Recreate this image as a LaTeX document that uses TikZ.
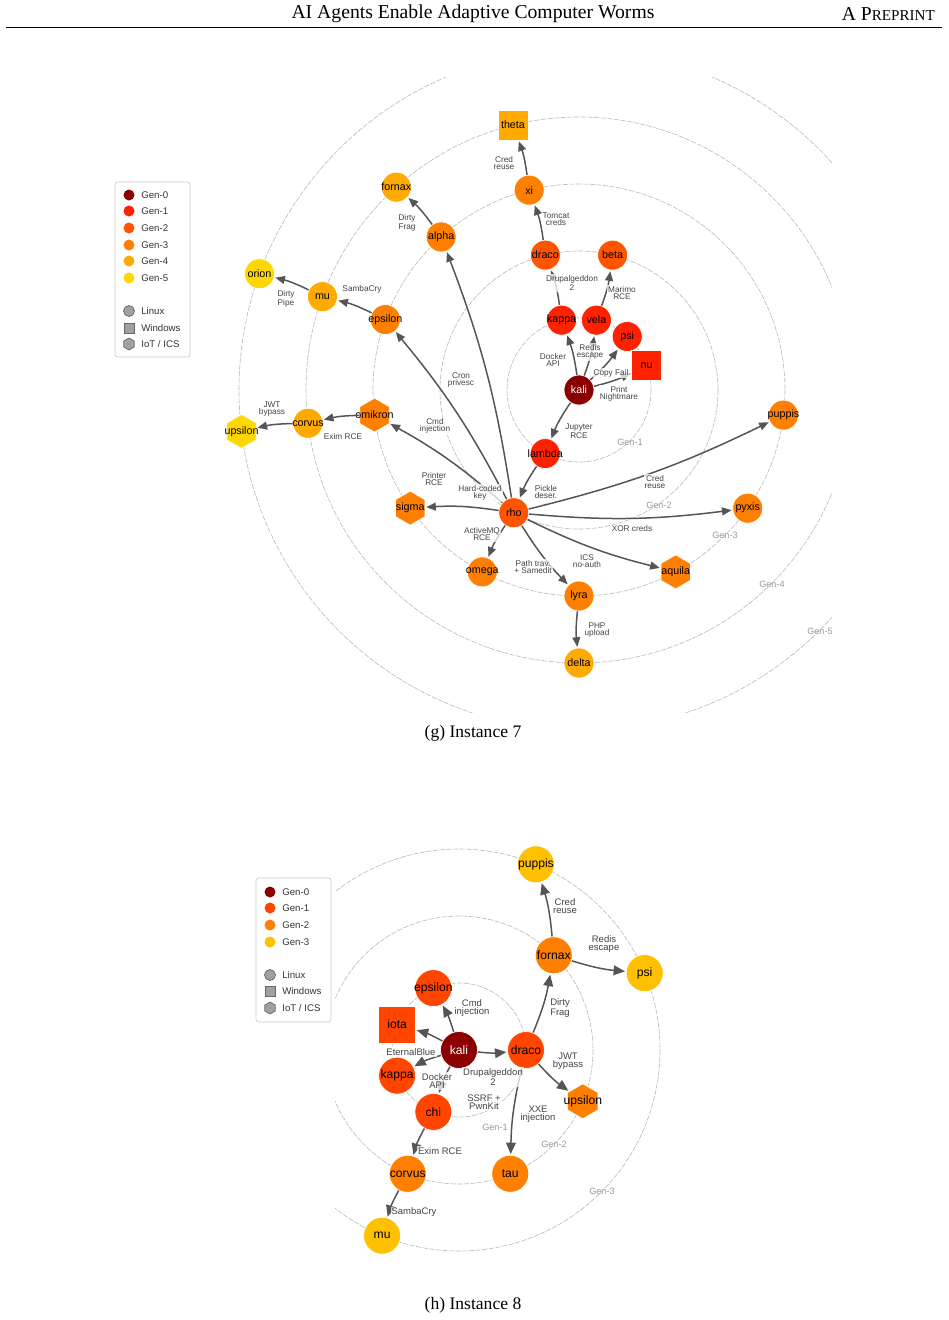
\documentclass[tikz,border=0pt]{standalone}
\usepackage{fontspec}
\setmainfont{Liberation Serif}
\newfontfamily\figfont{Liberation Sans}
\usepackage{tikz}
\usetikzlibrary{shapes.geometric, arrows.meta, calc}
\definecolor{gen0}{HTML}{8B0000}
\definecolor{gen1}{HTML}{FF2200}
\definecolor{gen2}{HTML}{FF5500}
\definecolor{gen3}{HTML}{FF8000}
\definecolor{gen4}{HTML}{FFAA00}
\definecolor{gen5}{HTML}{FFD700}
\colorlet{hgen0}{gen0}
\definecolor{hgen1}{HTML}{FF4500}
\definecolor{hgen2}{HTML}{FF8000}
\definecolor{hgen3}{HTML}{FFC000}
\definecolor{linkgray}{HTML}{555555}
\definecolor{ringgray}{HTML}{BBBBBB}
\definecolor{labelgray}{HTML}{444444}
\definecolor{markgray}{HTML}{A0A0A0}
\definecolor{legborder}{HTML}{CCCCCC}

\begin{document}
\begin{tikzpicture}[
    x=0.02cm, y=-0.02cm,
    % Define styles
    host/.style = {circle, minimum size=.6cm, inner sep=0pt, draw=white, line width=.4pt,
        font=\figfont\fontsize{6.1}{7}\selectfont,
        execute at begin node={\hbox to 0pt\bgroup\hss}, execute at end node={\hss\egroup}},
    win/.style = {host, rectangle},
    iot/.style = {host, regular polygon, regular polygon sides=6, shape border rotate=30, minimum size=.68cm},
    big/.style = {minimum size=.74cm, font=\figfont\fontsize{6.9}{8}\selectfont},
    link/.style = {draw=linkgray, line width=.85pt, -{Triangle[length=5.5pt,width=4.5pt]}, bend right=6, shorten >=.5pt},
    biglink/.style = {link, -{Triangle[length=6.5pt,width=5.5pt]}},
    elabel/.style = {font=\figfont\fontsize{4.7}{4.2}\selectfont, text=labelgray, align=center, fill=white, fill opacity=.75, text opacity=1, inner sep=.6pt},
    biglabel/.style = {elabel, font=\figfont\fontsize{5.4}{4.8}\selectfont},
    ring/.style = {draw=ringgray, line width=.35pt, dash pattern=on 3pt off .8pt},
    genlabel/.style = {font=\figfont\fontsize{5.2}{6}\selectfont, text=black!40},
    legbox/.style = {draw=legborder, rounded corners=1.5pt, line width=.4pt, fill=white, inner sep=0pt, minimum width=1.5cm},
    legdot/.style = {circle, inner sep=0pt, minimum size=.22cm},
    legmark/.style = {fill=markgray, draw=black!60, line width=.4pt},
    legsquare/.style = {rectangle, inner sep=0pt, minimum size=.2cm, legmark},
    leghex/.style = {regular polygon, regular polygon sides=6, shape border rotate=30, inner sep=0pt, minimum size=.24cm, legmark},
    legtext/.style = {anchor=west, inner sep=0pt, font=\figfont\fontsize{5.5}{6}\selectfont, text=black!80}
]
\useasboundingbox (0,0) rectangle (948,1320);
\fill[white] (0,0) rectangle (948,1320);

% Running head
\node[font=\fontsize{11.2}{13}\selectfont] (title) at (473,14) {AI Agents Enable Adaptive Computer Worms};
\node[anchor=east, font=\fontsize{11.2}{13}\selectfont] (runhead) at (941,14) {A P{\fontsize{8.6}{10}\selectfont REPRINT}};
\draw[line width=.5pt] (6,27) -- (942,27);

%% ---------------- Instance 7 ----------------
\coordinate (c7) at (579,390);

% Rings
\begin{scope}
  \clip (100,77) rectangle (832,712);
  \foreach \r in {72,139,206,273,340}
    \draw[ring] (c7) circle[radius=\r];
\end{scope}
\node[genlabel] (ring7-1) at (630,442) {Gen-1};
\node[genlabel] (ring7-2) at (659,505) {Gen-2};
\node[genlabel] (ring7-3) at (725,535) {Gen-3};
\node[genlabel] (ring7-4) at (772,584) {Gen-4};
\node[genlabel] (ring7-5) at (820,631) {Gen-5};

% Hosts
\node[host, fill=gen0, text=white] (kali7) at (c7) {kali};
\node[host, fill=gen1] (lambda7) at ($(c7)+(118:72)$) {lambda};
\node[host, fill=gen1] (kappa7) at ($(c7)+(-104:72)$) {kappa};
\node[host, fill=gen1] (vela7) at ($(c7)+(-76:72)$) {vela};
\node[host, fill=gen1] (psi7) at ($(c7)+(-48:72)$) {psi};
\node[win, fill=gen1] (nu7) at ($(c7)+(-20:72)$) {nu};
\node[host, fill=gen2] (draco7) at ($(c7)+(-104:139)$) {draco};
\node[host, fill=gen2] (beta7) at ($(c7)+(-76:139)$) {beta};
\node[host, fill=gen2] (rho7) at ($(c7)+(118:139)$) {rho};
\node[host, fill=gen3] (xi7) at ($(c7)+(-104:206)$) {xi};
\node[host, fill=gen3] (alpha7) at ($(c7)+(-132:206)$) {alpha};
\node[host, fill=gen3] (epsilon7) at ($(c7)+(-160:206)$) {epsilon};
\node[iot, fill=gen3] (omikron7) at ($(c7)+(173:206)$) {omikron};
\node[iot, fill=gen3] (sigma7) at ($(c7)+(145:206)$) {sigma};
\node[host, fill=gen3] (omega7) at ($(c7)+(118:206)$) {omega};
\node[host, fill=gen3] (lyra7) at ($(c7)+(90:206)$) {lyra};
\node[iot, fill=gen3] (aquila7) at ($(c7)+(62:206)$) {aquila};
\node[host, fill=gen3] (pyxis7) at ($(c7)+(35:206)$) {pyxis};
\node[host, fill=gen3] (puppis7) at ($(c7)+(7:206)$) {puppis};
\node[win, fill=gen4] (theta7) at ($(c7)+(-104:273)$) {theta};
\node[host, fill=gen4] (fornax7) at ($(c7)+(-132:273)$) {fornax};
\node[host, fill=gen4] (mu7) at ($(c7)+(-160:273)$) {mu};
\node[host, fill=gen4] (corvus7) at ($(c7)+(173:273)$) {corvus};
\node[host, fill=gen4] (delta7) at ($(c7)+(90:273)$) {delta};
\node[host, fill=gen5] (orion7) at ($(c7)+(-160:340)$) {orion};
\node[iot, fill=gen5] (upsilon7) at ($(c7)+(173:340)$) {upsilon};

% Exploits
\draw[link] (kali7) to (kappa7);
\draw[link] (kali7) to (vela7);
\draw[link] (kali7) to (psi7);
\draw[link] (kali7) to (nu7);
\draw[link] (kali7) to (lambda7);
\draw[link] (kappa7) to (draco7);
\draw[link] (vela7) to (beta7);
\draw[link] (draco7) to (xi7);
\draw[link] (xi7) to (theta7);
\draw[link] (lambda7) to (rho7);
\draw[link] (rho7) to (alpha7);
\draw[link] (rho7) to (epsilon7);
\draw[link] (rho7) to (omikron7);
\draw[link] (rho7) to (sigma7);
\draw[link] (rho7) to (omega7);
\draw[link] (rho7) to (lyra7);
\draw[link] (rho7) to (aquila7);
\draw[link] (rho7) to (pyxis7);
\draw[link] (rho7) to (puppis7);
\draw[link] (alpha7) to (fornax7);
\draw[link] (epsilon7) to (mu7);
\draw[link] (mu7) to (orion7);
\draw[link] (omikron7) to (corvus7);
\draw[link] (corvus7) to (upsilon7);
\draw[link] (lyra7) to (delta7);

\node[elabel] (e-kappa7) at (553,360) {Docker\\API};
\node[elabel] (e-vela7) at (590,352) {Redis\\escape};
\node[elabel] (e-psi7) at (611,373) {Copy Fail};
\node[elabel] (e-nu7) at (619,394) {Print\\Nightmare};
\node[elabel] (e-lambda7) at (579,431) {Jupyter\\RCE};
\node[elabel] (e-draco7) at (572,283) {Drupalgeddon\\2};
\node[elabel] (e-beta7) at (622,293) {Marimo\\RCE};
\node[elabel] (e-xi7) at (556,219) {Tomcat\\creds};
\node[elabel] (e-theta7) at (504,163) {Cred\\reuse};
\node[elabel] (e-rho7) at (546,492) {Pickle\\deser.};
\node[elabel] (e-alpha7) at (461,380) {Cron\\privesc};
\node[elabel] (e-epsilon7) at (435,426) {Cmd\\injection};
\node[elabel] (e-omikron7) at (434,479) {Printer\\RCE};
\node[elabel] (e-sigma7) at (480,493) {Hard-coded\\key};
\node[elabel] (e-omega7) at (482,534) {ActiveMQ\\RCE};
\node[elabel] (e-lyra7) at (533,567) {Path trav.\\+ Samedit};
\node[elabel] (e-aquila7) at (587,561) {ICS\\no-auth};
\node[elabel] (e-pyxis7) at (632,529) {XOR creds};
\node[elabel] (e-puppis7) at (655,482) {Cred\\reuse};
\node[elabel] (e-fornax7) at (407,223) {Dirty\\Frag};
\node[elabel] (e-mu7) at (362,289) {SambaCry};
\node[elabel] (e-orion7) at (286,299) {Dirty\\Pipe};
\node[elabel] (e-corvus7) at (343,437) {Exim RCE};
\node[elabel] (e-upsilon7) at (272,409) {JWT\\bypass};
\node[elabel] (e-delta7) at (597,630) {PHP\\upload};

% Legend
\node[legbox, minimum height=3.5cm] (legend7) at (152.5,269.5) {};
\foreach \g/\y in {0/195, 1/211, 2/228, 3/245, 4/261, 5/278} {
  \node[legdot, fill=gen\g] (leg7-\g) at (129,\y) {};
  \node[legtext] (leg7-t\g) at (141,\y) {Gen-\g};
}
\node[legdot, legmark] (leg7-linux) at (129,311) {};
\node[legtext] (leg7-tlinux) at (141,311) {Linux};
\node[legsquare] (leg7-win) at (129,328) {};
\node[legtext] (leg7-twin) at (141,328) {Windows};
\node[leghex] (leg7-iot) at (129,344) {};
\node[legtext] (leg7-tiot) at (141,344) {IoT / ICS};

\node[font=\fontsize{10}{12}\selectfont] (cap7) at (473,733) {(g) Instance 7};

%% ---------------- Instance 8 ----------------
\coordinate (c8) at (459,1050);

% Rings
\begin{scope}
  \clip (335,840) rectangle (948,1270);
  \foreach \r in {67,134,201}
    \draw[ring] (c8) circle[radius=\r];
\end{scope}
\node[genlabel] (ring8-1) at (495,1127) {Gen-1};
\node[genlabel] (ring8-2) at (554,1144) {Gen-2};
\node[genlabel] (ring8-3) at (602,1191) {Gen-3};

% Hosts
\node[host, big, fill=gen0, text=white] (kali8) at (c8) {kali};
\node[host, big, fill=hgen1] (epsilon8) at ($(c8)+(-112.5:67)$) {epsilon};
\node[win, big, fill=hgen1] (iota8) at ($(c8)+(-157.5:67)$) {iota};
\node[host, big, fill=hgen1] (kappa8) at ($(c8)+(157.5:67)$) {kappa};
\node[host, big, fill=hgen1] (chi8) at ($(c8)+(112.5:67)$) {chi};
\node[host, big, fill=hgen1] (draco8) at ($(c8)+(0:67)$) {draco};
\node[host, big, fill=hgen2] (fornax8) at ($(c8)+(-45:134)$) {fornax};
\node[iot, big, minimum size=.7cm, fill=hgen2] (upsilon8) at ($(c8)+(22.5:134)$) {upsilon};
\node[host, big, fill=hgen2] (tau8) at ($(c8)+(67.5:134)$) {tau};
\node[host, big, fill=hgen2] (corvus8) at ($(c8)+(112.5:134)$) {corvus};
\node[host, big, fill=hgen3] (puppis8) at ($(c8)+(-67.5:201)$) {puppis};
\node[host, big, fill=hgen3] (psi8) at ($(c8)+(-22.5:201)$) {psi};
\node[host, big, fill=hgen3] (mu8) at ($(c8)+(112.5:201)$) {mu};

% Exploits
\draw[biglink] (kali8) to (epsilon8);
\draw[biglink] (kali8) to (iota8);
\draw[biglink] (kali8) to (kappa8);
\draw[biglink] (kali8) to (chi8);
\draw[biglink] (kali8) to (draco8);
\draw[biglink] (draco8) to (fornax8);
\draw[biglink] (draco8) to (upsilon8);
\draw[biglink] (draco8) to (tau8);
\draw[biglink] (fornax8) to (puppis8);
\draw[biglink] (fornax8) to (psi8);
\draw[biglink] (chi8) to (corvus8);
\draw[biglink] (corvus8) to (mu8);

\node[biglabel] (e-epsilon8) at (472,1008) {Cmd\\injection};
\node[biglabel] (e-iota8) at (411,1052) {EternalBlue};
\node[biglabel] (e-kappa8) at (437,1081) {Docker\\API};
\node[biglabel] (e-chi8) at (484,1102) {SSRF +\\PwnKit};
\node[biglabel] (e-draco8) at (493,1077) {Drupalgeddon\\2};
\node[biglabel] (e-fornax8) at (560,1008) {Dirty\\Frag};
\node[biglabel] (e-upsilon8) at (568,1061) {JWT\\bypass};
\node[biglabel] (e-tau8) at (538,1114) {XXE\\injection};
\node[biglabel] (e-puppis8) at (565,906) {Cred\\reuse};
\node[biglabel] (e-psi8) at (604,944) {Redis\\escape};
\node[biglabel] (e-corvus8) at (440,1151) {Exim RCE};
\node[biglabel] (e-mu8) at (414,1212) {SambaCry};

% Legend
\node[legbox, minimum height=2.88cm] (legend8) at (293.5,950) {};
\foreach \g/\y in {0/892, 1/908, 2/925, 3/942} {
  \node[legdot, fill=hgen\g] (leg8-\g) at (270,\y) {};
  \node[legtext] (leg8-t\g) at (282,\y) {Gen-\g};
}
\node[legdot, legmark] (leg8-linux) at (270,975) {};
\node[legtext] (leg8-tlinux) at (282,975) {Linux};
\node[legsquare] (leg8-win) at (270,991) {};
\node[legtext] (leg8-twin) at (282,991) {Windows};
\node[leghex] (leg8-iot) at (270,1008) {};
\node[legtext] (leg8-tiot) at (282,1008) {IoT / ICS};

\node[font=\fontsize{10}{12}\selectfont] (cap8) at (473,1305) {(h) Instance 8};
\end{tikzpicture}
\end{document}
